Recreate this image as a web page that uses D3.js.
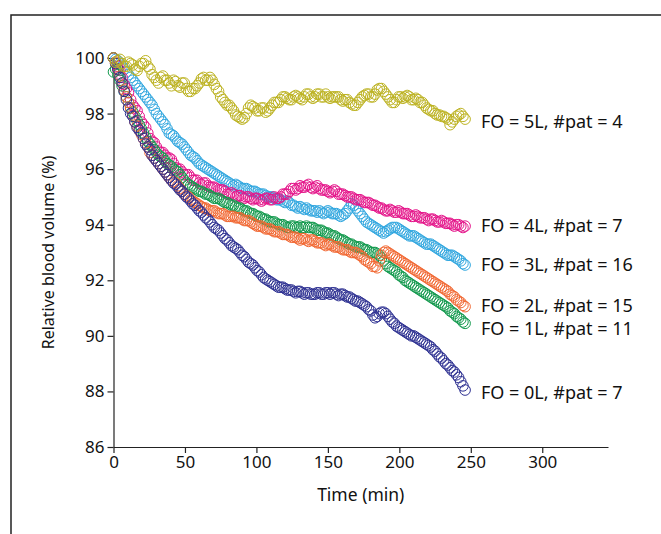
<!DOCTYPE html>
<html>
<head>
<meta charset="utf-8">
<script src="https://cdn.jsdelivr.net/npm/d3@7"></script>
<style>
  body { margin: 0; background: #fff; }
  svg { display: block; font-family: "Noto Sans", "Open Sans", sans-serif; }
  .axis path, .axis line { stroke: #222; stroke-width: 1.2px; }
</style>
</head>
<body>
<div class="chart"></div>
<script>
// sample times (min): on the 3-min grid and half way between
var timeMin = [0,3,6,9,12,15,18,21,24,27,30,33,36,39,42,45,48,51,54,57,60,63,66,69,72,75,78,81,84,87,90,93,96,99,102,105,108,111,114,117,120,123,126,129,132,135,138,141,144,147,150,153,156,159,162,165,168,171,174,177,180,183,186,189,192,195,198,201,204,207,210,213,216,219,222,225,228,231,234,237,240,243,246];
var timeMid = [1.5,4.5,7.5,10.5,13.5,16.5,19.5,22.5,25.5,28.5,31.5,34.5,37.5,40.5,43.5,46.5,49.5,52.5,55.5,58.5,61.5,64.5,67.5,70.5,73.5,76.5,79.5,82.5,85.5,88.5,91.5,94.5,97.5,100.5,103.5,106.5,109.5,112.5,115.5,118.5,121.5,124.5,127.5,130.5,133.5,136.5,139.5,142.5,145.5,148.5,151.5,154.5,157.5,160.5,163.5,166.5,169.5,172.5,175.5,178.5,181.5,184.5,187.5,190.5,193.5,196.5,199.5,202.5,205.5,208.5,211.5,214.5,217.5,220.5,223.5,226.5,229.5,232.5,235.5,238.5,241.5,244.5];

var fo5 = [100.0,99.9,99.8,99.7,99.8,99.6,99.7,99.8,99.7,99.4,99.2,99.3,99.2,99.1,99.2,99.0,99.1,98.9,98.8,98.9,99.1,99.3,99.2,99.2,98.9,98.6,98.4,98.3,98.1,97.9,97.8,98.0,98.3,98.2,98.1,98.2,98.1,98.3,98.4,98.5,98.6,98.5,98.6,98.6,98.5,98.7,98.6,98.6,98.7,98.6,98.6,98.6,98.6,98.5,98.5,98.4,98.3,98.4,98.6,98.7,98.6,98.7,98.9,98.8,98.6,98.4,98.5,98.6,98.6,98.6,98.5,98.5,98.4,98.2,98.1,98.0,97.95,97.9,97.8,97.7,97.9,98.0,97.8];
var fo5Mid = [99.85,99.95,99.7,99.85,99.75,99.55,99.8,99.9,99.6,99.3,99.1,99.35,99.2,99.0,99.15,98.95,99.1,98.8,98.9,99.0,99.25,99.2,99.3,99.05,98.8,98.5,98.3,98.2,97.95,97.85,97.85,98.2,98.25,98.1,98.2,98.05,98.2,98.4,98.4,98.6,98.55,98.5,98.65,98.55,98.6,98.7,98.55,98.7,98.6,98.7,98.55,98.6,98.6,98.45,98.5,98.35,98.3,98.5,98.65,98.7,98.6,98.85,98.9,98.7,98.5,98.4,98.6,98.55,98.65,98.5,98.55,98.4,98.3,98.15,98.1,97.95,97.9,97.85,97.6,97.8,97.95,97.9];

var fo4 = [100.0,99.7,99.3,98.9,98.5,98.2,97.9,97.6,97.3,97.0,96.8,96.6,96.5,96.4,96.2,96.0,95.9,95.8,95.7,95.6,95.5,95.5,95.4,95.35,95.3,95.25,95.2,95.1,95.1,95.05,95.0,95.0,94.95,94.95,94.9,94.9,94.95,94.9,94.95,95.0,95.1,95.2,95.3,95.3,95.35,95.4,95.35,95.35,95.3,95.25,95.2,95.2,95.2,95.1,95.05,95.0,94.95,94.9,94.85,94.8,94.75,94.7,94.6,94.55,94.5,94.5,94.45,94.45,94.4,94.35,94.3,94.3,94.25,94.2,94.2,94.15,94.1,94.1,94.05,94.0,94.0,93.95,93.95];
var fo4Mid = [99.85,99.55,99.05,98.75,98.3,98.1,97.7,97.5,97.1,96.95,96.65,96.6,96.4,96.35,96.05,96.0,95.8,95.8,95.6,95.6,95.45,95.5,95.35,95.35,95.25,95.25,95.1,95.15,95.0,95.05,94.95,95.0,94.9,94.95,94.85,94.95,94.9,95.0,94.95,95.1,95.1,95.3,95.25,95.4,95.35,95.45,95.3,95.4,95.25,95.25,95.15,95.25,95.1,95.1,95.0,95.0,94.9,94.9,94.8,94.8,94.7,94.65,94.6,94.5,94.55,94.45,94.5,94.4,94.4,94.3,94.35,94.25,94.25,94.15,94.2,94.1,94.15,94.05,94.05,93.95,94.0,93.9];

var fo3 = [100.0,99.9,99.7,99.5,99.3,99.1,98.9,98.7,98.5,98.3,98.0,97.8,97.6,97.3,97.2,97.0,96.9,96.7,96.5,96.4,96.2,96.1,96.0,95.9,95.8,95.7,95.6,95.5,95.4,95.4,95.3,95.3,95.2,95.2,95.1,95.1,95.0,95.0,94.9,94.9,94.8,94.8,94.7,94.6,94.6,94.6,94.5,94.5,94.5,94.4,94.5,94.4,94.4,94.3,94.4,94.6,94.7,94.5,94.3,94.1,94.0,93.9,93.8,93.7,93.8,93.9,93.9,93.8,93.7,93.6,93.6,93.5,93.4,93.3,93.3,93.2,93.1,93.0,92.9,92.9,92.8,92.7,92.55];
var fo3Mid = [99.95,99.8,99.6,99.4,99.2,99.0,98.8,98.6,98.4,98.15,97.9,97.7,97.45,97.25,97.1,96.95,96.8,96.6,96.45,96.3,96.15,96.05,95.95,95.85,95.75,95.65,95.55,95.45,95.45,95.35,95.3,95.25,95.2,95.15,95.1,95.05,95.0,94.95,94.9,94.85,94.85,94.7,94.65,94.65,94.55,94.55,94.5,94.45,94.45,94.45,94.45,94.4,94.35,94.35,94.5,94.75,94.6,94.4,94.2,94.05,93.95,93.85,93.75,93.75,93.85,93.9,93.85,93.75,93.65,93.6,93.55,93.45,93.35,93.3,93.25,93.15,93.05,92.95,92.9,92.85,92.75,92.6];

var fo2 = [100.0,99.6,99.1,98.6,98.2,97.7,97.4,97.1,96.8,96.5,96.3,96.1,95.9,95.7,95.55,95.4,95.2,95.05,94.9,94.8,94.7,94.6,94.55,94.5,94.45,94.4,94.35,94.3,94.3,94.25,94.2,94.15,94.1,94.0,93.95,93.9,93.85,93.8,93.75,93.7,93.65,93.6,93.55,93.5,93.5,93.45,93.45,93.4,93.35,93.3,93.3,93.25,93.2,93.15,93.1,93.05,93.0,92.95,92.85,92.7,92.6,92.5,92.7,93.0,93.0,92.9,92.8,92.7,92.6,92.5,92.4,92.3,92.2,92.1,92.0,91.9,91.8,91.7,91.6,91.45,91.3,91.2,91.05];
var fo2Mid = [99.8,99.35,98.85,98.4,97.95,97.55,97.25,96.95,96.6,96.4,96.2,96.0,95.8,95.6,95.5,95.3,95.1,95.0,94.85,94.75,94.65,94.6,94.5,94.5,94.4,94.4,94.3,94.3,94.25,94.25,94.15,94.15,94.05,93.95,93.95,93.85,93.85,93.75,93.75,93.65,93.65,93.55,93.55,93.45,93.5,93.4,93.45,93.35,93.35,93.25,93.3,93.2,93.2,93.1,93.1,93.0,93.0,92.9,92.75,92.65,92.5,92.45,92.9,93.05,92.95,92.85,92.75,92.65,92.55,92.45,92.35,92.25,92.15,92.05,91.95,91.85,91.75,91.65,91.5,91.4,91.25,91.1];

var fo1 = [99.5,99.4,99.0,98.6,98.2,97.9,97.6,97.3,97.0,96.8,96.6,96.45,96.3,96.15,96.0,95.9,95.7,95.5,95.4,95.3,95.2,95.15,95.1,95.0,94.95,94.9,94.8,94.75,94.7,94.6,94.55,94.5,94.4,94.35,94.3,94.2,94.15,94.1,94.05,94.0,93.95,93.9,93.95,93.9,93.9,93.95,93.9,93.85,93.8,93.75,93.7,93.6,93.55,93.45,93.4,93.3,93.25,93.2,93.15,93.1,93.0,93.0,92.9,92.7,92.5,92.4,92.3,92.15,92.0,91.9,91.8,91.7,91.6,91.5,91.4,91.3,91.2,91.1,91.0,90.85,90.7,90.6,90.45];
var fo1Mid = [99.6,99.2,98.8,98.4,98.05,97.75,97.45,97.15,96.9,96.7,96.5,96.4,96.2,96.1,95.95,95.8,95.6,95.45,95.35,95.25,95.2,95.1,95.05,94.95,94.95,94.85,94.8,94.7,94.65,94.6,94.5,94.45,94.4,94.3,94.25,94.2,94.1,94.1,94.0,94.0,93.9,93.95,93.9,93.95,93.9,93.9,93.9,93.8,93.8,93.7,93.65,93.6,93.5,93.45,93.35,93.3,93.2,93.2,93.1,93.05,93.0,92.95,92.8,92.6,92.45,92.35,92.2,92.1,91.95,91.85,91.75,91.65,91.55,91.45,91.35,91.25,91.15,91.05,90.9,90.8,90.65,90.5];

var fo0 = [100.0,99.6,99.1,98.5,98.0,97.7,97.4,97.1,96.8,96.5,96.3,96.1,95.9,95.7,95.5,95.35,95.2,95.0,94.85,94.7,94.5,94.35,94.2,94.0,93.85,93.7,93.5,93.35,93.2,93.1,92.9,92.75,92.6,92.45,92.3,92.1,92.0,91.9,91.8,91.75,91.7,91.65,91.6,91.6,91.55,91.55,91.5,91.5,91.55,91.5,91.55,91.55,91.5,91.5,91.45,91.4,91.3,91.25,91.15,91.05,90.9,90.65,90.8,90.85,90.7,90.5,90.35,90.25,90.15,90.05,90.0,89.9,89.8,89.7,89.6,89.45,89.25,89.1,88.95,88.75,88.6,88.35,88.05];
var fo0Mid = [99.8,99.3,98.8,98.2,97.9,97.5,97.3,96.9,96.7,96.4,96.2,96.0,95.8,95.6,95.45,95.25,95.1,94.95,94.75,94.6,94.45,94.25,94.1,93.9,93.8,93.6,93.45,93.25,93.15,93.0,92.85,92.65,92.55,92.35,92.2,92.05,91.95,91.85,91.75,91.75,91.65,91.65,91.55,91.6,91.5,91.55,91.5,91.55,91.5,91.55,91.5,91.55,91.45,91.5,91.4,91.35,91.25,91.2,91.1,90.95,90.75,90.7,90.85,90.8,90.6,90.45,90.3,90.2,90.1,90.0,89.95,89.85,89.75,89.65,89.5,89.35,89.2,89.0,88.85,88.7,88.5,88.2];

var groupLabels = ["FO = 3L, #pat = 16", "FO = 4L, #pat = 7", "FO = 1L, #pat = 11", "FO = 2L, #pat = 15", "FO = 0L, #pat = 7", "FO = 5L, #pat = 4"];
var labelAt = [92.55, 93.95, 90.25, 91.1, 87.95, 97.7];
var colors = ["#33a8e0", "#e5168b", "#139a4e", "#f26934", "#2e3192", "#bdb322"];
var seriesList = [[fo3, fo3Mid], [fo4, fo4Mid], [fo1, fo1Mid], [fo2, fo2Mid], [fo0, fo0Mid], [fo5, fo5Mid]];

var xTicks = [0, 50, 100, 150, 200, 250, 300];
var yTicks = [86, 88, 90, 92, 94, 96, 98, 100];

var width = 661, height = 534;

var svg = d3.select(".chart")
  .append("svg")
  .attr("width", width)
  .attr("height", height);

// outer frame
svg.append("rect")
  .attr("x", 11)
  .attr("y", 15)
  .attr("width", 700)
  .attr("height", 600)
  .attr("fill", "none")
  .attr("stroke", "#222")
  .attr("stroke-width", 1.5);

var x = d3.scaleLinear()
  .domain([0, 346])
  .range([113.5, 608]);

var y = d3.scaleLinear()
  .domain([86, 100])
  .range([447, 58]);

var xAxis = svg.append("g")
  .attr("class", "axis")
  .attr("transform", "translate(0," + y(86) + ")")
  .call(d3.axisBottom(x).tickValues(xTicks).tickSize(6).tickSizeOuter(0).tickPadding(3));

var yAxis = svg.append("g")
  .attr("class", "axis")
  .attr("transform", "translate(" + x(0) + ",0)")
  .call(d3.axisLeft(y).tickValues(yTicks).tickSize(6).tickSizeOuter(0).tickPadding(3));

svg.selectAll(".axis text")
  .style("font-size", "17px")
  .style("fill", "#111")
  .style("font-family", "'Noto Sans', sans-serif");

svg.append("text")
  .attr("x", (x(0) + x(346)) / 2)
  .attr("y", 501)
  .attr("text-anchor", "middle")
  .attr("font-size", 17.5)
  .attr("fill", "#111")
  .text("Time (min)");

svg.append("text")
  .attr("transform", "translate(54," + (y(86) + y(100)) / 2 + ") rotate(-90)")
  .attr("text-anchor", "middle")
  .attr("font-size", 16)
  .attr("fill", "#111")
  .text("Relative blood volume (%)");

// open-circle markers, one group per FO class
seriesList.forEach(function(pair, i){
  var g = svg.append("g");
  [[timeMin, pair[0]], [timeMid, pair[1]]].forEach(function(part){
    g.selectAll(null)
      .data(part[1])
      .enter()
      .append("circle")
      .attr("cx", function(d, j){ return x(part[0][j]); })
      .attr("cy", function(d){ return y(d); })
      .attr("r", 5.3)
      .attr("fill", "none")
      .attr("stroke", colors[i])
      .attr("stroke-width", 1);
  });
});

// end labels
svg.append("g")
  .selectAll("text")
  .data(groupLabels)
  .enter()
  .append("text")
  .attr("x", 481)
  .attr("y", function(d, i){ return y(labelAt[i]); })
  .attr("dy", "0.35em")
  .attr("font-size", 18)
  .attr("fill", "#111")
  .text(function(d){ return d; });
</script>
</body>
</html>
